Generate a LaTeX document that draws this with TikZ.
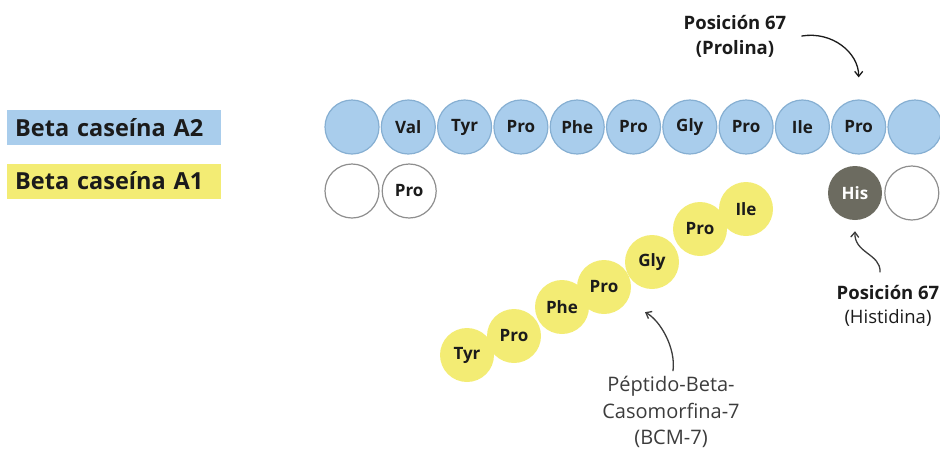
\documentclass[tikz,border=0pt]{standalone}
\usepackage{fontspec}
\setmainfont{Open Sans}
\usetikzlibrary{arrows.meta,positioning}
\definecolor{CaseinBlue}{HTML}{A9CDEC}
\definecolor{CaseinBlueLine}{HTML}{86AFD2}
\definecolor{CaseinYellow}{HTML}{F3EC74}
\definecolor{HisGray}{HTML}{6C6B60}
\definecolor{RingGray}{HTML}{8E8E8E}
\definecolor{InkDark}{HTML}{1B1B1B}
\definecolor{InkSoft}{HTML}{3C3C3C}

\begin{document}
\begin{tikzpicture}[x=1pt,y=-1pt,>={Straight Barb[length=5pt,width=8pt]},
  res/.style={circle,minimum size=54pt,inner sep=0pt,text=InkDark,
    font=\fontsize{17}{20}\selectfont\bfseries},
  a2res/.style={res,draw=CaseinBlueLine,line width=1.2pt,fill=CaseinBlue},
  a1res/.style={res,draw=RingGray,line width=1.2pt,fill=white},
  hisres/.style={res,fill=HisGray,text=white},
  bcmres/.style={res,fill=CaseinYellow},
  legendbox/.style={anchor=west,minimum height=35pt,text width=198pt,inner xsep=8pt,
    text=InkDark,font=\fontsize{23.5}{26}\selectfont\bfseries},
  note/.style={align=center,text=InkDark},
  pointer/.style={->,line width=1.3pt,line cap=round}]
  \useasboundingbox (0,0) rectangle (940,448);

  % legend
  \node[legendbox,fill=CaseinBlue] (legA2) at (7,127.5) {Beta caseína A2};
  \node[legendbox,fill=CaseinYellow] (legA1) at (7,181) {Beta caseína A1};

  % A2 chain
  \foreach \lab [count=\i] in {{},Val,Tyr,Pro,Phe,Pro,Gly,Pro,Ile,Pro,{}}
    \node[a2res] (b\i) at ({352+56.3*(\i-1)},127) {\lab};

  % A1 chain, what is left after the cut
  \node[a1res] (w1) at (352,191) {};
  \node[a1res,right=2pt of w1] (w2) {Pro};
  \node[hisres] (his) at (855,193) {His};
  \node[a1res,right=2pt of his] (w3) {};

  % BCM-7
  \foreach \lab/\x/\y [count=\i] in {Tyr/467/355,Pro/514/336,Phe/562/307,Pro/604/287,Gly/652/262,Pro/700/229,Ile/746/209}
    \node[bcmres] (y\i) at (\x,\y) {\lab};

  % labels
  \node[note,font=\fontsize{18.5}{25}\selectfont\bfseries] (lblPro) at (735,36) {Posición 67\\(Prolina)};
  \node[note,font=\fontsize{18.5}{24}\selectfont] (lblHis) at (888,306) {\textbf{Posición 67}\\(Histidina)};
  \node[note,text=InkSoft,font=\fontsize{20}{26.5}\selectfont] (lblBcm) at (671,412) {Péptido-Beta-\\Casomorfina-7\\(BCM-7)};

  \draw[pointer,InkDark] ([xshift=12pt]lblPro.east) .. controls +(30,-5) and +(0,-25) .. ([yshift=22pt]b10.north);
  \draw[pointer,InkSoft] ([xshift=-8pt,yshift=10pt]lblHis.north) .. controls +(1,-18) and +(-1,22) .. ([yshift=-11pt]his.south);
  \draw[pointer,InkSoft] ([xshift=2pt,yshift=2pt]lblBcm.north) .. controls +(3,-23) and +(15,8) .. ([xshift=-7pt,yshift=-23pt]y5.south);
\end{tikzpicture}
\end{document}
